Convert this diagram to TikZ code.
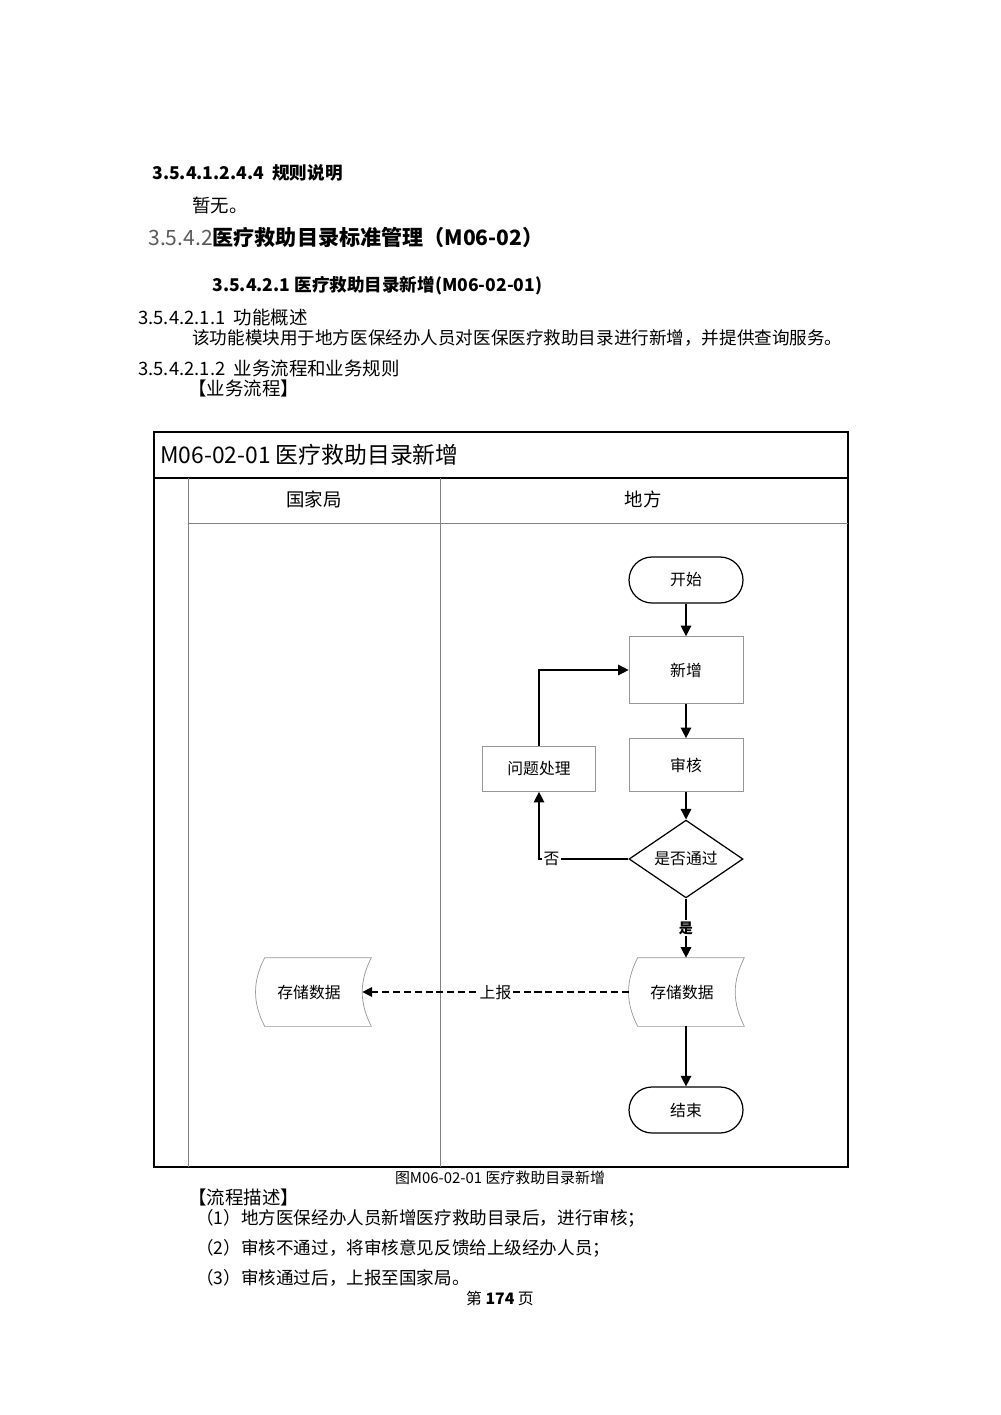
\documentclass[tikz,border=0pt]{standalone}
\usepackage{fontspec}
\setmainfont{Noto Sans CJK SC}
\usetikzlibrary{arrows.meta,calc,positioning,shapes.geometric}

\definecolor{lanegray}{RGB}{130,130,130}
\definecolor{boxgray}{RGB}{150,150,150}
\definecolor{numgray}{RGB}{90,90,90}

% stored data: name, x, y, text
\newcommand{\storagebox}[4]{
    \node[store] (#1) at (#2,#3) {#4};
    \draw[boxgray] ($(#1.north west)+(9,0)$) -- ($(#1.north east)+(9,0)$) to[bend right=27] ($(#1.south east)+(9,0)$) -- ($(#1.south west)+(9,0)$) to[bend left=27] ($(#1.north west)+(9,0)$) -- cycle;
}

\begin{document}
\begin{tikzpicture}[x=0.02cm, y=-0.02cm]\tikzstyle{every node}=[font=\fontsize{9pt}{11pt}\selectfont]
\tikzstyle{txt}=[anchor=west, inner sep=0pt]
\tikzstyle{term}=[draw=black, line width=0.7pt, rounded corners=0.46cm, minimum width=2.28cm, minimum height=0.92cm]
\tikzstyle{proc}=[draw=boxgray, minimum width=2.28cm]
\tikzstyle{decide}=[draw=black, line width=0.7pt, diamond, inner sep=0pt, minimum width=2.28cm, minimum height=1.34cm]
\tikzstyle{store}=[minimum width=2.12cm, minimum height=1.36cm]
\tikzstyle{flow}=[draw=black, line width=0.8pt, -{Triangle[length=6pt, width=6pt]}]
\tikzstyle{report}=[draw=black, line width=0.7pt, dash pattern=on 4pt off 2.2pt, -{Triangle[length=5.5pt, width=5.5pt]}]
\tikzstyle{lbl}=[fill=white, inner sep=1pt]

   \useasboundingbox (0,0) rectangle (1000,1415);

   % Page text
   \node[txt, font=\fontsize{10pt}{12pt}\selectfont\bfseries] (rulehead) at (152,173) {3.5.4.1.2.4.4\ \ 规则说明};
   \node[txt, font=\fontsize{10.5pt}{12pt}\selectfont] (rulebody) at (192,205) {暂无。};
   \node[txt, font=\fontsize{12pt}{14pt}\selectfont] (sechead) at (148,237) {\textcolor{numgray}{3.5.4.2}\textbf{医疗救助目录标准管理（M06-02）}};
   \node[txt, font=\fontsize{10pt}{12pt}\selectfont\bfseries] (subhead) at (212,286) {3.5.4.2.1 医疗救助目录新增(M06-02-01)};
   \node[txt, font=\fontsize{10.5pt}{12pt}\selectfont] (funchead) at (138,318) {3.5.4.2.1.1\ \ 功能概述};
   \node[txt, font=\fontsize{10pt}{12pt}\selectfont] (funcbody) at (192,338) {该功能模块用于地方医保经办人员对医保医疗救助目录进行新增，并提供查询服务。};
   \node[txt, font=\fontsize{10.5pt}{12pt}\selectfont] (flowhead) at (138,368) {3.5.4.2.1.2\ \ 业务流程和业务规则};
   \node[txt, font=\fontsize{10.5pt}{12pt}\selectfont] (flowtag) at (188,388) {【业务流程】};

   % Frame and lanes
   \draw[black, line width=0.7pt] (154,432) rectangle (848,1167);
   \draw[black, line width=0.7pt] (154,478) -- (848,478);
   \foreach \x in {188, 440}
     \draw[lanegray] (\x,478) -- (\x,1167);
   \draw[lanegray] (188,523) -- (848,523);
   \node[txt, font=\fontsize{13pt}{15pt}\selectfont] (title) at (160,455) {M06-02-01 医疗救助目录新增};
   \node[font=\fontsize{10.5pt}{12pt}\selectfont] (lanenat) at (314,499) {国家局};
   \node[font=\fontsize{10.5pt}{12pt}\selectfont] (laneloc) at (643,499) {地方};

   % Flow nodes
   \node[term] (start) at (686,580) {开始};
   \node[proc, minimum height=1.34cm] (add) at (686,670) {新增};
   \node[proc, minimum height=1.06cm] (check) at (686,765) {审核};
   \node[decide] (pass) at (686,859) {是否通过};
   \node[proc, minimum width=2.26cm, minimum height=0.9cm] (fix) at (539,769) {问题处理};
   \storagebox{storeloc}{682}{992}{存储数据}
   \storagebox{storenat}{309}{992}{存储数据}
   \node[term] (finish) at (686,1110) {结束};

   % Connectors
   \draw[flow] (start) -- (add);
   \draw[flow] (add) -- (check);
   \draw[flow] (check) -- (pass);
   \draw[flow] (pass.west) -| (fix.south) node[lbl, pos=0.43] {否};
   \draw[flow] (fix.north) |- (add.west);
   \draw[flow] (pass.south) -- (pass.south |- storeloc.north) node[lbl, pos=0.5, font=\fontsize{8pt}{10pt}\selectfont\bfseries] {是};
   \draw[report] (storeloc.west) -- (storenat.east) node[lbl, pos=0.5] {上报};
   \draw[flow] (storeloc.south -| finish) -- (finish);

   % Caption and description
   \node[font=\fontsize{8.5pt}{10pt}\selectfont] (caption) at (500,1178) {图M06-02-01 医疗救助目录新增};
   \node[txt, font=\fontsize{10.5pt}{12pt}\selectfont] (desctag) at (188,1197) {【流程描述】};
   \foreach \n/\s in {1/{地方医保经办人员新增医疗救助目录后，进行审核；}, 2/{审核不通过，将审核意见反馈给上级经办人员；}, 3/{审核通过后，上报至国家局。}}
     \node[txt, font=\fontsize{10pt}{12pt}\selectfont] (desc\n) at (196,1188+30*\n) {（\n）\s};
   \node[font=\fontsize{9pt}{11pt}\selectfont] (pageno) at (500,1298) {第 \textbf{174} 页};

\end{tikzpicture}
\end{document}
